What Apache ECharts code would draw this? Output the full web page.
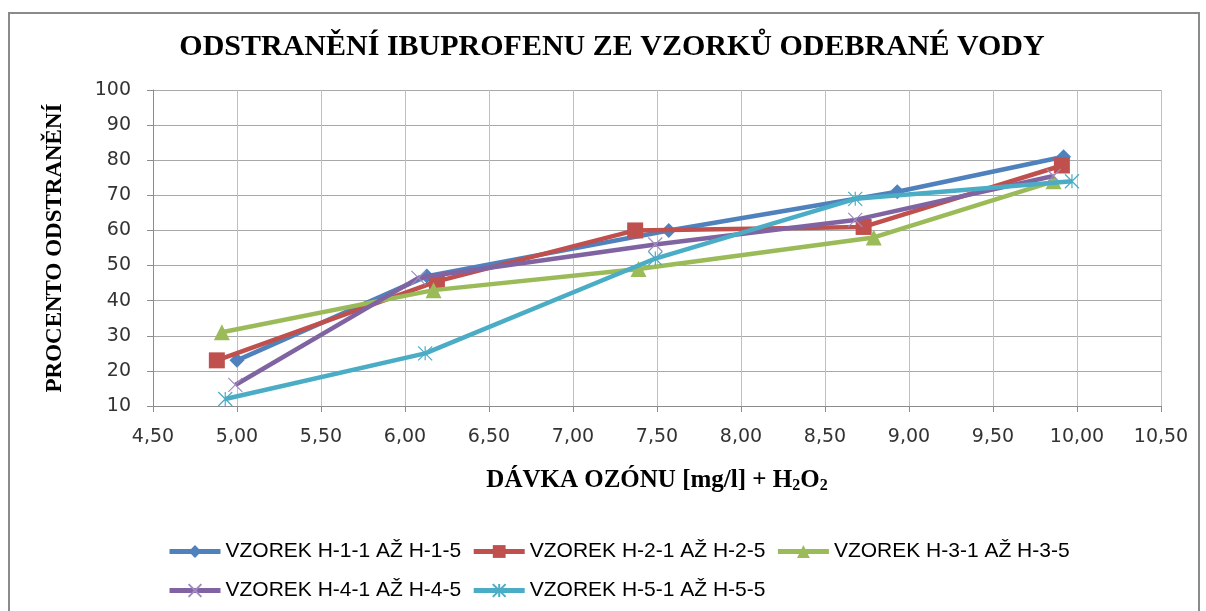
<!DOCTYPE html>
<html><head><meta charset="utf-8">
<script src="https://cdn.jsdelivr.net/npm/echarts@6/dist/echarts.min.js"></script>
<style>html,body{margin:0;padding:0;background:#fff}#c{width:1206px;height:611px}</style>
</head><body><div id="c"></div>
<script>
const seriesNames = ['VZOREK H-1-1 AŽ H-1-5','VZOREK H-2-1 AŽ H-2-5','VZOREK H-3-1 AŽ H-3-5','VZOREK H-4-1 AŽ H-4-5','VZOREK H-5-1 AŽ H-5-5'];
const h1 = [[5.00,23],[6.13,47],[7.57,60],[8.93,71],[9.92,81]];
const h2 = [[4.88,23],[6.19,45.5],[7.37,60],[8.73,61],[9.91,78.5]];
const h3 = [[4.91,31],[6.17,43],[7.39,49],[8.79,58],[9.86,74]];
const h4 = [[4.99,16],[6.08,46.5],[7.49,56],[8.68,63],[9.86,75.5]];
const h5 = [[4.93,12],[6.12,25],[7.49,52],[8.68,69],[9.97,74]];
const colors = ['#4F81BD','#C0504D','#9BBB59','#8064A2','#4BACC6'];
const chartTitle = 'ODSTRANĚNÍ IBUPROFENU ZE VZORKŮ ODEBRANÉ VODY';
const yName = 'PROCENTO ODSTRANĚNÍ';

const xMark = 'path://M0,0L10,10M10,0L0,10';
const starMark = 'path://M5,0L5,10M0,0L10,10M10,0L0,10';
const serif = '"Liberation Serif","Times New Roman",serif';
const sans = '"DejaVu Sans","Verdana",sans-serif';
const lsans = '"Liberation Sans","Arial",sans-serif';

const chart = echarts.init(document.getElementById('c'));
function mk(i, data, symbol, size, stroke){
  const s = {
    name: seriesNames[i], type:'line', data, symbol, symbolSize:size,
    lineStyle:{color:colors[i], width:4.5},
    itemStyle:{color:colors[i]},
    emphasis:{disabled:true}, z: 2+i
  };
  if(stroke){
    s.itemStyle = {color:'rgba(0,0,0,0)', borderColor: stroke, borderWidth:1.2};
  }
  return s;
}
const legendText = {fontFamily:lsans, fontSize:21, color:'#000'};
chart.setOption({
  animation:false,
  color: colors,
  graphic:[
    {type:'rect', shape:{x:9,y:13,width:1190,height:620}, style:{fill:'none', stroke:'#8a8a8a', lineWidth:2}, z:-1},
    {type:'text', x:612, y:47, style:{text:chartTitle, font:'bold 30px '+serif, fill:'#000', align:'center', verticalAlign:'middle'}}
  ],
  grid:{left:153, right:45, top:90, bottom:205},
  xAxis:{
    type:'value', min:4.5, max:10.5, interval:0.5,
    name:'DÁVKA OZÓNU [mg/l] + H{s|2}O{s|2}', nameLocation:'middle', nameGap:62,
    nameTextStyle:{fontFamily:serif, fontWeight:'bold', fontSize:25, color:'#000',
      rich:{s:{fontFamily:serif, fontWeight:'bold', fontSize:16, verticalAlign:'bottom', padding:[10,0,0,0]}}},
    axisLine:{lineStyle:{color:'#8c8c8c', width:1}},
    axisTick:{show:true, length:6, lineStyle:{color:'#8c8c8c'}},
    axisLabel:{fontFamily:sans, fontSize:19, color:'#333', margin:22,
      formatter:v=>v.toFixed(2).replace('.',',')},
    splitLine:{show:true, lineStyle:{color:'#c0c0c0', width:1}}
  },
  yAxis:{
    type:'value', min:10, max:100, interval:10,
    name:yName, nameLocation:'middle', nameGap:86, nameRotate:90,
    nameTextStyle:{fontFamily:serif, fontWeight:'bold', fontSize:23, color:'#000'},
    axisLine:{show:true, lineStyle:{color:'#8c8c8c', width:1}},
    axisTick:{show:true, length:6, lineStyle:{color:'#8c8c8c'}},
    axisLabel:{fontFamily:sans, fontSize:19, color:'#333', margin:22},
    splitLine:{show:true, lineStyle:{color:'#a8a8a8', width:1}}
  },
  legend:[
    {data:seriesNames.slice(0,3), left:162, top:536, itemWidth:51, itemHeight:16, itemGap:10,
     lineStyle:{width:5}, textStyle:legendText, selectedMode:false},
    {data:seriesNames.slice(3), left:162, top:575, itemWidth:51, itemHeight:16, itemGap:10,
     lineStyle:{width:5}, textStyle:legendText, selectedMode:false}
  ],
  series:[
    mk(0,h1,'diamond',15),
    mk(1,h2,'rect',16),
    mk(2,h3,'triangle',16),
    mk(3,h4,xMark,14,'#A08BC0'),
    mk(4,h5,starMark,14,'#4BACC6')
  ]
});
</script></body></html>
